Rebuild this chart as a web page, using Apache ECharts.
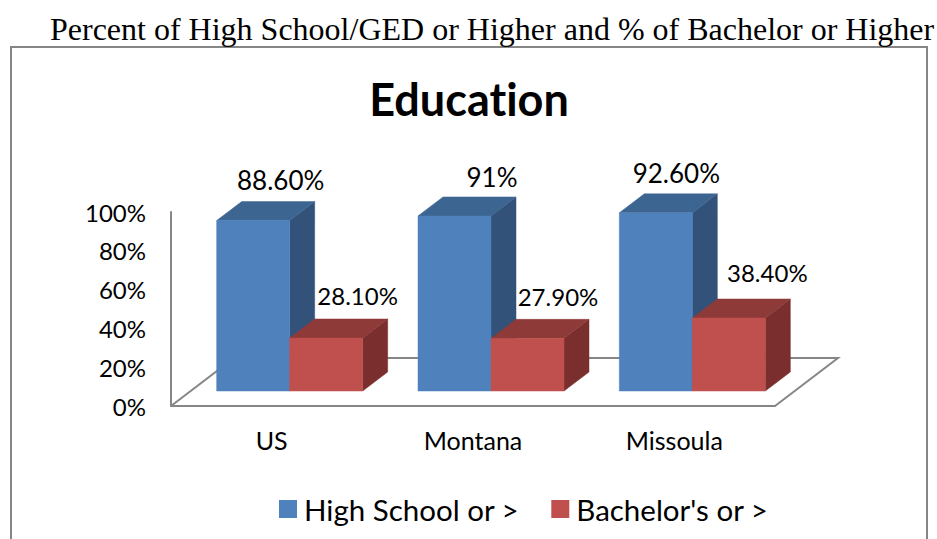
<!DOCTYPE html>
<html><head><meta charset="utf-8">
<style>html,body{margin:0;padding:0;background:#fff;overflow:hidden}#c{width:937px;height:539px}
#c text{font-variant-ligatures:none !important}</style>
<script src="https://cdn.jsdelivr.net/npm/echarts@6/dist/echarts.min.js"></script>
</head><body><div id="c"></div>
<script>
const categories = ['US', 'Montana', 'Missoula'];
const highSchool = [88.6, 91, 92.6];
const bachelor = [28.1, 27.9, 38.4];
const highSchoolLabels = ['88.60%', '91%', '92.60%'];
const bachelorLabels = ['28.10%', '27.90%', '38.40%'];
const yTicks = [0, 20, 40, 60, 80, 100];
const highSchoolNudge = [15, 25, 8];
const bachelorNudge = [19, 18, 26];
const highSchoolLift = [22, 19.5, 20.5];
const bachelorLift = [23, 22.5, 27];

const FONT = 'Lato, "Open Sans", sans-serif';
const DEPTH_X = 25, DEPTH_Y = 19, BASE_LIFT = 15, TOP_LIFT = 13.5;
const BAR_RATIO = 73 / 201.33;
const GREY = '#868686';

function poly(points, fill) {
  return { type: 'polygon', shape: { points }, style: { fill, stroke: fill, lineWidth: 0.5 } };
}
function barRenderer(offsetBars, front, top, side, labels, nudges, lifts, labelSize) {
  return function (params, api) {
    const i = api.value(0), v = api.value(1);
    const base = api.coord([i, 0]), head = api.coord([i, v]);
    const w = api.size([1, 0])[0] * BAR_RATIO;
    const x0 = base[0] - 55 + offsetBars * w, x1 = x0 + w;
    const yb = base[1] - BASE_LIFT, yt = head[1] - TOP_LIFT;
    return {
      type: 'group',
      children: [
        poly([[x1, yb], [x1 + DEPTH_X, yb - DEPTH_Y], [x1 + DEPTH_X, yt - DEPTH_Y], [x1, yt]], side),
        poly([[x0, yt], [x1, yt], [x1 + DEPTH_X, yt - DEPTH_Y], [x0 + DEPTH_X, yt - DEPTH_Y]], top),
        poly([[x0, yb], [x1, yb], [x1, yt], [x0, yt]], front),
        {
          type: 'text',
          style: {
            x: (x0 + x1) / 2 + DEPTH_X / 2 + nudges[i], y: yt - DEPTH_Y - lifts[i],
            text: labels[i], fill: '#000', font: labelSize + 'px ' + FONT,
            textAlign: 'center', textVerticalAlign: 'middle'
          }
        }
      ]
    };
  };
}
function floorRenderer(params, api) {
  const g = params.coordSys;
  const l = g.x, r = g.x + g.width, b = g.y + g.height;
  const dx = 63, dy = 48;
  return {
    type: 'polyline',
    shape: { points: [[l, b], [l + dx, b - dy], [r + dx, b - dy], [r, b]] },
    style: { fill: null, stroke: GREY, lineWidth: 2 }
  };
}

const chart = echarts.init(document.getElementById('c'), null, { renderer: 'svg' });
chart.setOption({
  animation: false,
  backgroundColor: '#fff',
  title: [
    { text: 'Percent of High School/GED or Higher and % of Bachelor or Higher', left: 50, top: 13, padding: 0,
      textStyle: { fontFamily: '"Liberation Serif", serif', fontSize: 32, fontWeight: 'normal', color: '#000' } },
    { text: 'Education', left: 469, textAlign: 'center', top: 76, padding: 0,
      textStyle: { fontFamily: FONT, fontSize: 45, fontWeight: 'bold', color: '#000' } }
  ],
  grid: { left: 171, width: 604, top: 212, height: 194 },
  xAxis: {
    type: 'category', data: categories,
    axisLine: { lineStyle: { color: GREY, width: 2 } }, axisTick: { show: false },
    axisLabel: { fontFamily: FONT, fontSize: 25, color: '#000', margin: 21 }
  },
  yAxis: {
    type: 'value', min: yTicks[0], max: yTicks[yTicks.length - 1], interval: yTicks[1],
    axisLine: { show: true, lineStyle: { color: GREY, width: 2 } }, axisTick: { show: false },
    splitLine: { show: false },
    axisLabel: { formatter: '{value}%', fontFamily: FONT, fontSize: 24, color: '#000', margin: 25, padding: [2, 0, 0, 0] }
  },
  legend: {
    data: ['High School or >', "Bachelor's or >"],
    left: 279, top: 494, padding: 0, itemWidth: 18, itemHeight: 18, itemGap: 32,
    icon: 'rect', textStyle: { fontFamily: FONT, fontSize: 29.5, color: '#000', padding: [0, 0, 0, 2] }
  },
  graphic: [{
    type: 'polyline', silent: true, z: -1,
    shape: { points: [[11, 560], [11, 47], [927, 47], [927, 560]] },
    style: { fill: null, stroke: GREY, lineWidth: 2 }
  }],
  series: [
    { type: 'custom', name: 'floor', data: [[0, 0]], renderItem: floorRenderer, z: 1, silent: true },
    { type: 'custom', name: 'High School or >', itemStyle: { color: '#4F81BD' }, z: 2,
      data: categories.map((c, i) => [i, highSchool[i]]),
      renderItem: barRenderer(0, '#4F81BD', '#3D6591', '#32527A', highSchoolLabels, highSchoolNudge, highSchoolLift, 26) },
    { type: 'custom', name: "Bachelor's or >", itemStyle: { color: '#C0504D' }, z: 3,
      data: categories.map((c, i) => [i, bachelor[i]]),
      renderItem: barRenderer(1, '#C0504D', '#8D3A38', '#7A2F2E', bachelorLabels, bachelorNudge, bachelorLift, 24) }
  ]
});
</script></body></html>
